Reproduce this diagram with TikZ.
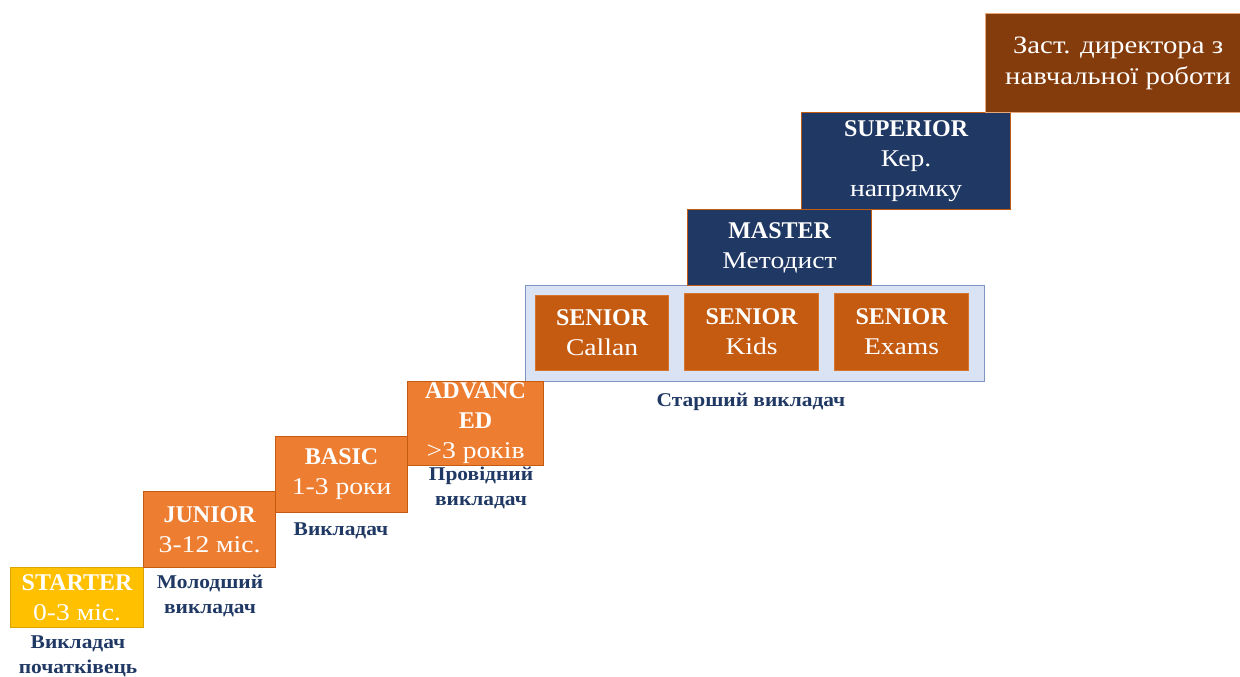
\documentclass[tikz,border=0pt]{standalone}
\usepackage{fontspec}
\setmainfont{Liberation Serif}
\newfontfamily\wideserif{Liberation Serif}[FakeStretch=1.15]
\newfontfamily\labelserif{Liberation Serif}[FakeStretch=1.1]
\definecolor{cstarter}{HTML}{FFC000}
\definecolor{cstarterb}{HTML}{D9A300}
\definecolor{corange}{HTML}{ED7D31}
\definecolor{corangeb}{HTML}{C55A11}
\definecolor{csenior}{HTML}{C55A11}
\definecolor{cseniorb}{HTML}{D7752F}
\definecolor{cnavy}{HTML}{203864}
\definecolor{cbrown}{HTML}{843C0C}
\definecolor{cbrownb}{HTML}{E8A77A}
\definecolor{cpanel}{HTML}{DAE3F3}
\definecolor{cpanelb}{HTML}{7F96C2}
\definecolor{clabel}{HTML}{1F3864}
\newcommand{\hd}[1]{{\fontsize{24}{30}\selectfont\bfseries #1}}
\newcommand{\tx}[1]{{\wideserif\fontsize{24}{30}\selectfont #1}}
\tikzset{
  box/.style={draw, line width=1.2pt, anchor=north west, inner sep=0pt,
    align=center, text=white, font=\fontsize{24}{30}\selectfont},
  starterbox/.style={box, fill=cstarter, draw=cstarterb},
  orangebox/.style={box, fill=corange, draw=corangeb},
  seniorbox/.style={box, fill=csenior, draw=cseniorb},
  navybox/.style={box, fill=cnavy, draw=corangeb},
  brownbox/.style={box, fill=cbrown, draw=cbrownb},
  panel/.style={draw=cpanelb, fill=cpanel, line width=1.2pt, anchor=north west, inner sep=0pt},
  lbl/.style={text=clabel, align=center, font=\labelserif\bfseries\fontsize{19.5}{25}\selectfont, inner sep=0pt}
}
\begin{document}
\begin{tikzpicture}[x=1pt,y=-1pt]
\useasboundingbox (0,0) rectangle (1240,677);
\node[panel, minimum width=459pt, minimum height=96pt] (panel) at (525,285) {};
\node[starterbox, minimum width=133pt, minimum height=60pt] (starter) at (10,567) {\hd{STARTER}\\\tx{0-3 міс.}};
\node[orangebox, minimum width=132pt, minimum height=76pt] (junior) at (143,491) {\hd{JUNIOR}\\\tx{3-12 міс.}};
\node[orangebox, minimum width=132pt, minimum height=76pt] (basic) at (275,436) {\hd{BASIC}\\\tx{1-3 роки}};
\node[orangebox, minimum width=136pt, minimum height=84pt] (advanced) at (407,381) {\hd{ADVANC}\\\hd{ED}\\\tx{>3 років}};
\node[seniorbox, minimum width=133pt, minimum height=75pt] (callan) at (535,295) {\hd{SENIOR}\\\tx{Callan}};
\node[seniorbox, minimum width=134pt, minimum height=77pt] (kids) at (684,293) {\hd{SENIOR}\\\tx{Kids}};
\node[seniorbox, minimum width=134pt, minimum height=77pt] (exams) at (834,293) {\hd{SENIOR}\\\tx{Exams}};
\node[navybox, minimum width=184pt, minimum height=76pt] (master) at (687,209) {\hd{MASTER}\\\tx{Методист}};
\node[navybox, minimum width=209pt, minimum height=97pt] (superior) at (801,112) {\hd{SUPERIOR}\\\tx{Кер.}\\\tx{напрямку}};
\node[brownbox, minimum width=255pt, minimum height=99pt, font=\wideserif\fontsize{25}{31}\selectfont] (deputy) at (985,13) {\hspace*{10pt}Заст. директора з\\\hspace*{10pt}навчальної роботи};
\node[lbl] (l1) at (78,656) {Викладач\\початківець};
\node[lbl] (l2) at (210,596) {Молодший\\викладач};
\node[lbl] (l3) at (341,531) {Викладач};
\node[lbl] (l4) at (481,488) {Провідний\\викладач};
\node[lbl] (l5) at (751,402) {Старший викладач};
\end{tikzpicture}
\end{document}
